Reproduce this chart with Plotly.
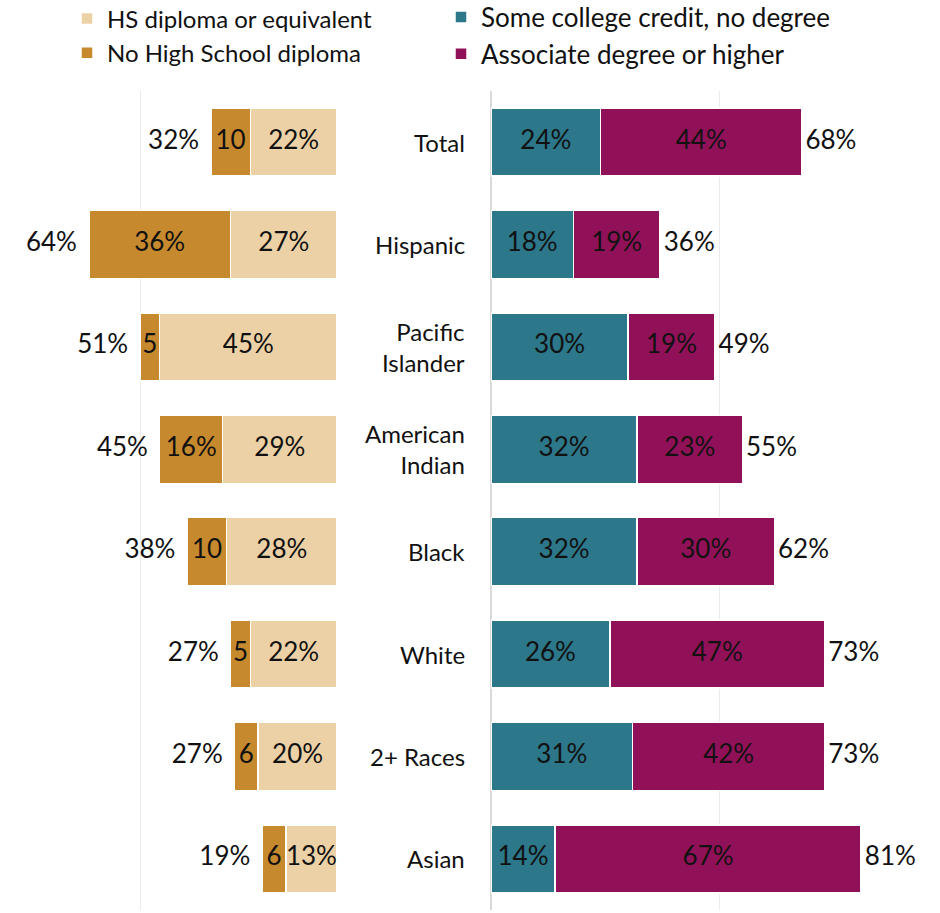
import plotly.graph_objects as go

categories = ["Total", "Hispanic", "Pacific Islander", "American Indian", "Black",
              "White", "2+ Races", "Asian"]
category_labels = ["Total", "Hispanic", "Pacific<br>Islander", "American<br>Indian", "Black",
                   "White", "2+ Races", "Asian"]

hs_diploma = [22, 27, 45, 29, 28, 22, 20, 13]
no_hs = [10, 36, 5, 16, 10, 5, 6, 6]
left_totals = [32, 64, 51, 45, 38, 27, 27, 19]

some_college = [24, 18, 30, 32, 32, 26, 31, 14]
associate = [44, 19, 19, 23, 30, 47, 42, 67]
right_totals = [68, 36, 49, 55, 62, 73, 73, 81]

C_HS = "#EDD1A6"
C_NOHS = "#C6892D"
C_SOME = "#2C7789"
C_ASSOC = "#911159"
FONT = "Lato"
W, H = 940, 913

def seg_label(v):
    return f"{v}%" if v >= 13 else f"{v}"

fig = go.Figure()

fig.add_trace(go.Bar(y=categories, x=hs_diploma, orientation="h", name="HS diploma or equivalent",
                     marker=dict(color=C_HS, line=dict(color="white", width=1.5)),
                     xaxis="x", yaxis="y", legend="legend", hoverinfo="x+y"))
fig.add_trace(go.Bar(y=categories, x=no_hs, orientation="h", name="No High School diploma",
                     marker=dict(color=C_NOHS, line=dict(color="white", width=1.5)),
                     xaxis="x", yaxis="y", legend="legend", hoverinfo="x+y"))
fig.add_trace(go.Bar(y=categories, x=some_college, orientation="h", name="Some college credit, no degree",
                     marker=dict(color=C_SOME, line=dict(color="white", width=1.5)),
                     xaxis="x2", yaxis="y2", legend="legend2", hoverinfo="x+y"))
fig.add_trace(go.Bar(y=categories, x=associate, orientation="h", name="Associate degree or higher",
                     marker=dict(color=C_ASSOC, line=dict(color="white", width=1.5)),
                     xaxis="x2", yaxis="y2", legend="legend2", hoverinfo="x+y"))

tf = dict(family=FONT, size=26, color="#111111")

# segment labels
fig.add_trace(go.Scatter(y=categories, x=[h / 2 for h in hs_diploma], mode="text",
                         text=[seg_label(v) for v in hs_diploma], textposition="middle center",
                         textfont=tf, xaxis="x", yaxis="y", showlegend=False, hoverinfo="skip"))
fig.add_trace(go.Scatter(y=categories, x=[h + n / 2 for h, n in zip(hs_diploma, no_hs)], mode="text",
                         text=[seg_label(v) for v in no_hs], textposition="middle center",
                         textfont=tf, xaxis="x", yaxis="y", showlegend=False, hoverinfo="skip"))
fig.add_trace(go.Scatter(y=categories, x=[s / 2 for s in some_college], mode="text",
                         text=[seg_label(v) for v in some_college], textposition="middle center",
                         textfont=tf, xaxis="x2", yaxis="y2", showlegend=False, hoverinfo="skip"))
fig.add_trace(go.Scatter(y=categories, x=[s + a / 2 for s, a in zip(some_college, associate)], mode="text",
                         text=[seg_label(v) for v in associate], textposition="middle center",
                         textfont=tf, xaxis="x2", yaxis="y2", showlegend=False, hoverinfo="skip"))

# total labels
fig.add_trace(go.Scatter(y=categories, x=[h + n + 3 for h, n in zip(hs_diploma, no_hs)], mode="text",
                         text=[f"{t}%" for t in left_totals], textposition="middle left",
                         textfont=tf, xaxis="x", yaxis="y", showlegend=False, hoverinfo="skip"))
fig.add_trace(go.Scatter(y=categories, x=[s + a + 0.8 for s, a in zip(some_college, associate)], mode="text",
                         text=[f"{t}%" for t in right_totals], textposition="middle right",
                         textfont=tf, xaxis="x2", yaxis="y2", showlegend=False, hoverinfo="skip"))

# category labels
for cat, lab in zip(categories, category_labels):
    fig.add_annotation(x=467 / W, xref="paper", y=cat, yref="y2", text=lab, showarrow=False,
                       xanchor="right", align="right", font=dict(family=FONT, size=24, color="#111111"))

left_px_per = 3.94
right_px_per = 4.57
ydom = [(H - 910.2) / H, (H - 90.8) / H]

fig.update_layout(
    width=W, height=H,
    margin=dict(l=0, r=0, t=0, b=0, autoexpand=False),
    paper_bgcolor="white", plot_bgcolor="white",
    barmode="stack", bargap=0.336,
    font=dict(family=FONT, size=22, color="#111111"),
    xaxis=dict(domain=[0, 337 / W], range=[337 / left_px_per, 0], tickvals=[0, 50],
               showgrid=True, gridcolor="#ebebeb", gridwidth=1, zeroline=False,
               showticklabels=False, ticks="", fixedrange=True),
    xaxis2=dict(domain=[491 / W, 1], range=[0, (W - 491) / right_px_per], tickvals=[0, 50, 100],
                showgrid=True, gridcolor="#ebebeb", gridwidth=1, zeroline=True,
                zerolinecolor="#d9d9d9", zerolinewidth=2,
                showticklabels=False, ticks="", fixedrange=True),
    yaxis=dict(domain=ydom, type="category", categoryarray=categories, range=[7.5, -0.5],
               showticklabels=False, showgrid=False, zeroline=False, ticks="", anchor="x"),
    yaxis2=dict(domain=ydom, type="category", categoryarray=categories, range=[7.5, -0.5],
                showticklabels=False, showgrid=False, zeroline=False, ticks="", anchor="x2"),
    legend=dict(x=67 / W, y=1.004, xanchor="left", yanchor="top", orientation="v",
                font=dict(family=FONT, size=24, color="#111111"), bgcolor="rgba(0,0,0,0)",
                traceorder="normal", itemwidth=30, tracegroupgap=0),
    legend2=dict(x=441 / W, y=1.007, xanchor="left", yanchor="top", orientation="v",
                 font=dict(family=FONT, size=26, color="#111111"), bgcolor="rgba(0,0,0,0)",
                 traceorder="normal", itemwidth=30, tracegroupgap=0),
    showlegend=True,
)

fig.write_html("out.html")
